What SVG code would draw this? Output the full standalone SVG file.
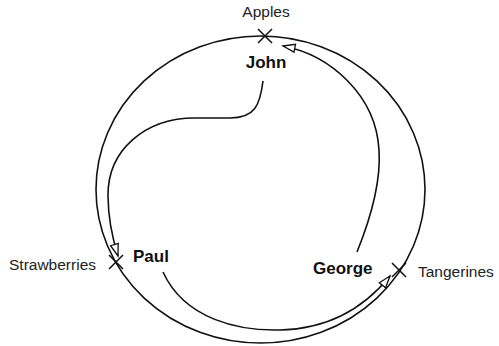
<svg xmlns="http://www.w3.org/2000/svg" width="499" height="346" viewBox="0 0 499 346">
<defs>
<style>
.lbl{font-family:"Liberation Sans",Arial,sans-serif;font-size:15.5px;fill:#222}
.node{font-family:"Liberation Sans",Arial,sans-serif;font-size:17px;font-weight:bold;fill:#111}
.ln{fill:none;stroke:#111;stroke-width:1.6}
.x{stroke:#111;stroke-width:1.5}
</style>
<marker id="arr" markerUnits="userSpaceOnUse" markerWidth="16" markerHeight="12" refX="13" refY="5" orient="auto" viewBox="0 0 16 12">
<path d="M1,1 L13,5 L1,9 z" fill="#fff" stroke="#111" stroke-width="1.3"/>
</marker>
</defs>
<rect width="499" height="346" fill="#fff"/>
<g id="orbit">
<ellipse class="ln" cx="260.5" cy="189.5" rx="164.5" ry="153.5"/>
</g>
<g id="apples">
<path class="x" d="M258,29 L272,43 M272,29 L258,43"/>
<text class="lbl" x="266" y="17" text-anchor="middle">Apples</text>
</g>
<g id="strawberries">
<path class="x" d="M109,255 L123,269 M123,255 L109,269"/>
<text class="lbl" x="9" y="270">Strawberries</text>
</g>
<g id="tangerines">
<path class="x" d="M392,263 L406,277 M406,263 L392,277"/>
<text class="lbl" x="418" y="277">Tangerines</text>
</g>
<g id="john"><text class="node" x="266" y="68" text-anchor="middle">John</text></g>
<g id="paul"><text class="node" x="133" y="262">Paul</text></g>
<g id="george"><text class="node" x="313" y="274">George</text></g>
<g id="connectors">
<path class="ln" marker-end="url(#arr)" d="M263,81 C260,105 255,118 230,118 L195,118 C145,118 108,150 108,195 C108,220 113,240 118,256"/>
<path class="ln" marker-end="url(#arr)" d="M163,272 C185,320 240,331 280,330 C328,329 364,308 390,276"/>
<path class="ln" marker-end="url(#arr)" d="M357,252 C372,215 381,180 379,150 C376,95 330,55 283,46"/>
</g>
</svg>
